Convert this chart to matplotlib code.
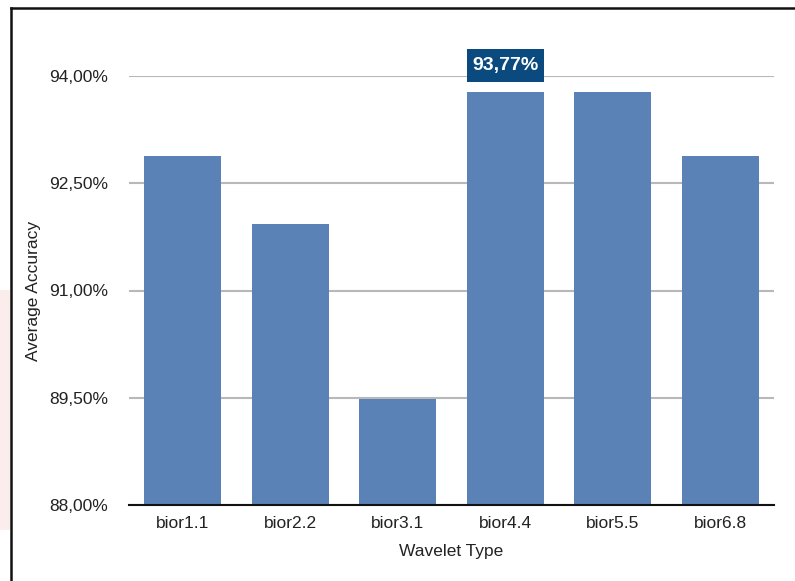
import matplotlib.pyplot as plt
import numpy as np
from matplotlib.lines import Line2D
from matplotlib.patches import Rectangle

plt.rcParams['font.family'] = ['Liberation Sans', 'DejaVu Sans']

wavelets = ['bior1.1', 'bior2.2', 'bior3.1', 'bior4.4', 'bior5.5', 'bior6.8']
accuracy = [92.88, 91.93, 89.48, 93.77, 93.77, 92.88]
y_ticks = [88.0, 89.5, 91.0, 92.5, 94.0]
y_labels = ['88,00%', '89,50%', '91,00%', '92,50%', '94,00%']

fig = plt.figure(figsize=(7.95, 5.81), dpi=100)
W, H = 795, 581
ax = fig.add_axes([129 / W, (H - 505) / H, (774 - 129) / W, (505 - 76) / H])

x = np.arange(len(wavelets))
ax.bar(x, accuracy, width=0.72, color='#5b82b6', zorder=2)
ax.set_xlim(-0.5, len(wavelets) - 0.5)
ax.set_ylim(88, 94)

ax.set_yticks(y_ticks)
ax.set_yticklabels(y_labels, fontsize=12.5, color='#222222')
ax.set_xticks(x)
ax.set_xticklabels(wavelets, fontsize=12.5, color='#222222')
ax.tick_params(axis='both', length=0)
ax.tick_params(axis='y', pad=15)
ax.tick_params(axis='x', pad=8)
ax.yaxis.grid(True, color='#b8b8b8', lw=1.5, zorder=1)
ax.set_axisbelow(True)
for s in ['top', 'right', 'left']:
    ax.spines[s].set_visible(False)
ax.spines['bottom'].set_color('#111111')
ax.spines['bottom'].set_linewidth(1.5)
ax.spines['bottom'].set_zorder(3)

ax.set_xlabel('Wavelet Type', fontsize=12.5, color='#222222', labelpad=9)
ax.set_ylabel('Average Accuracy', fontsize=12.5, color='#222222', labelpad=6)

# highlighted value label, box as wide as the bar
best = int(np.argmax(accuracy))
ax.add_patch(Rectangle((x[best] - 0.36, 93.91), 0.72, 0.47, fc='#0b4a7e', ec='none',
                       zorder=5, clip_on=False))
ax.text(x[best], 94.145, '93,77%', ha='center', va='center',
        fontsize=14, fontweight='bold', color='white', zorder=6, clip_on=False)

# screenshot frame
fig.add_artist(Line2D([11 / W, 1], [1 - 8 / H, 1 - 8 / H], color='#111111', lw=1.8))
fig.add_artist(Line2D([11 / W, 11 / W], [0, 1 - 8 / H], color='#111111', lw=1.8))
fig.add_artist(Rectangle((0, (H - 530) / H), 10 / W, 240 / H, color='#fbe6e6',
                         alpha=0.7, lw=0))

fig.savefig('out.png', dpi=100)
